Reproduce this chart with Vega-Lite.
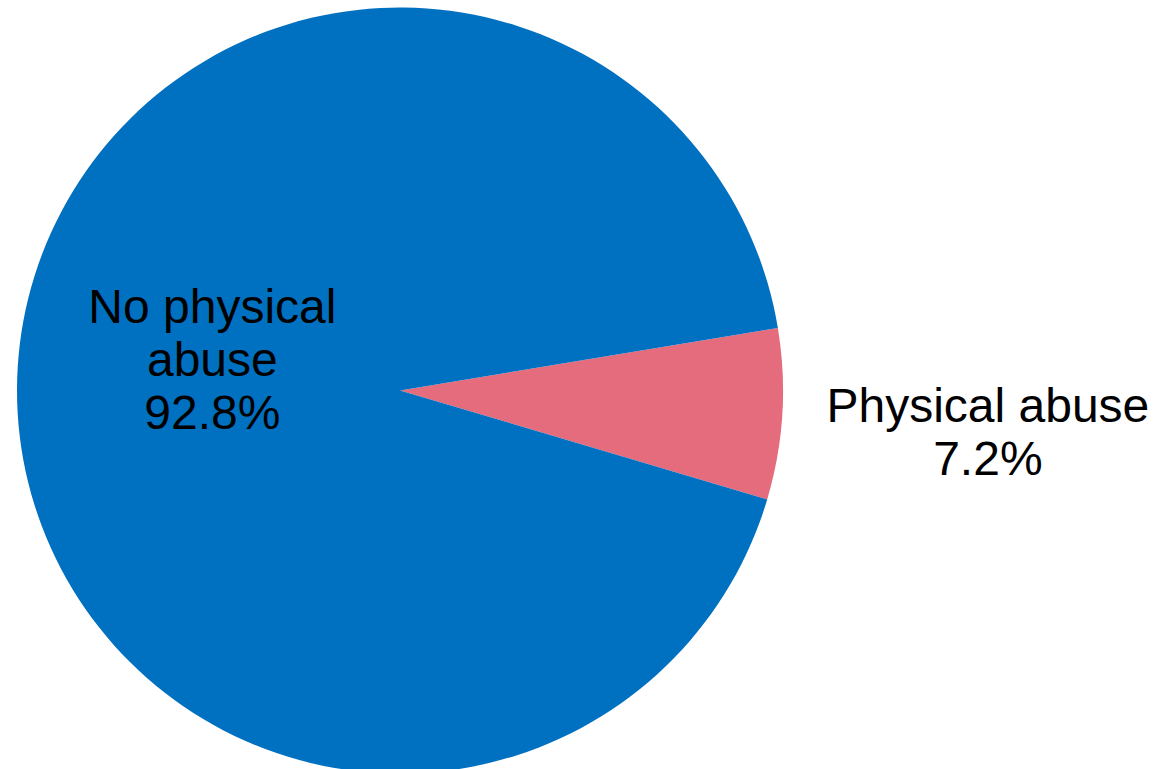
{
  "$schema": "https://vega.github.io/schema/vega-lite/v6.json",
  "width": 800,
  "height": 781,
  "autosize": "none",
  "padding": {"left": 0, "top": 0, "right": 358, "bottom": 0},
  "background": "white",
  "config": {"view": {"stroke": null}, "text": {"font": "Liberation Sans"}},
  "data": {
    "values": [
      {"category": "Physical abuse", "percent": 7.2, "label": "Physical abuse\n7.2%"},
      {"category": "No physical abuse", "percent": 92.8, "label": "No physical\nabuse\n92.8%"}
    ]
  },
  "encoding": {
    "theta": {"field": "percent", "type": "quantitative", "stack": true, "scale": {"range": [1.4067, 7.6899]}},
    "order": {"field": "percent", "sort": "ascending"},
    "detail": {"field": "category"}
  },
  "layer": [
    {
      "mark": {"type": "arc", "radius": 383},
      "encoding": {
        "color": {
          "field": "category",
          "type": "nominal",
          "scale": {"domain": ["No physical abuse", "Physical abuse"], "range": ["#0070C0", "#E56C7D"]},
          "legend": null
        }
      }
    },
    {
      "mark": {"type": "text", "radius": 190, "dx": 2, "dy": -70, "fontSize": 48, "lineBreak": "\n", "lineHeight": 53, "align": "center", "baseline": "middle", "color": "black"},
      "encoding": {
        "text": {"condition": {"test": "datum.category === 'No physical abuse'", "field": "label"}, "value": ""}
      }
    },
    {
      "mark": {"type": "text", "radius": 589, "dx": 0, "dy": -19, "fontSize": 48, "lineBreak": "\n", "lineHeight": 53, "align": "center", "baseline": "middle", "color": "black"},
      "encoding": {
        "text": {"condition": {"test": "datum.category === 'Physical abuse'", "field": "label"}, "value": ""}
      }
    }
  ]
}
